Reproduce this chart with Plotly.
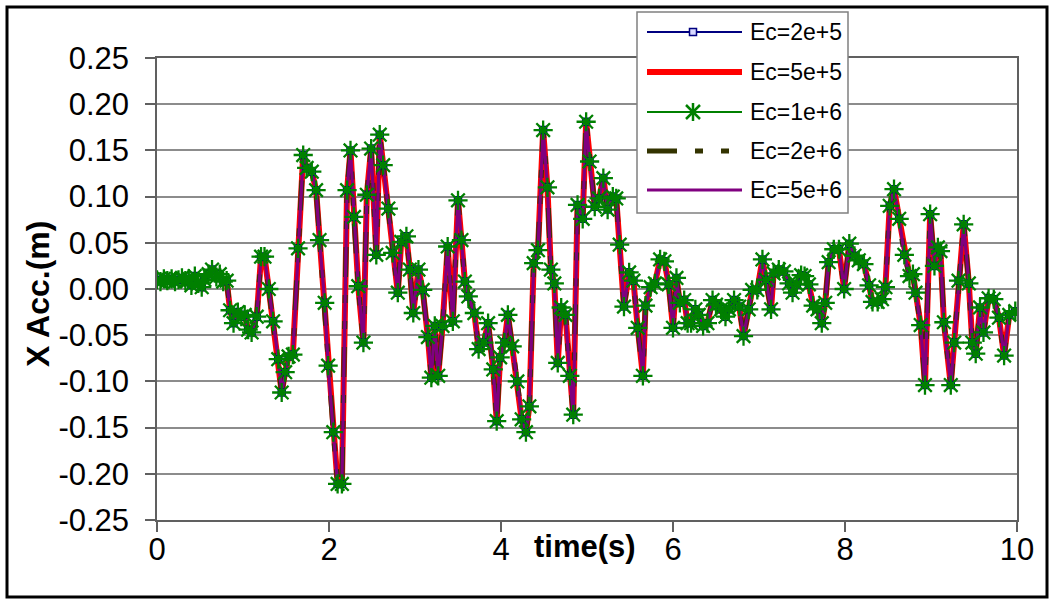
import plotly.graph_objects as go

# Sampled response: time (s) and X acceleration
time_s = [
    0.00, 0.04, 0.08, 0.12, 0.17, 0.21, 0.25, 0.29, 0.33, 0.37, 0.40, 0.44, 0.48, 0.52, 0.55,
    0.60, 0.64, 0.69, 0.73, 0.77, 0.81, 0.85, 0.89, 0.94, 0.98, 1.02, 1.06, 1.10, 1.16, 1.21,
    1.25, 1.30, 1.35, 1.41, 1.45, 1.49, 1.53, 1.58, 1.64, 1.70, 1.74, 1.80, 1.85, 1.89, 1.95,
    1.99, 2.05, 2.10, 2.15, 2.21, 2.25, 2.29, 2.34, 2.40, 2.44, 2.49, 2.55, 2.59, 2.63, 2.69,
    2.74, 2.80, 2.84, 2.90, 2.94, 2.98, 3.04, 3.09, 3.15, 3.19, 3.23, 3.27, 3.32, 3.38, 3.44,
    3.50, 3.54, 3.58, 3.62, 3.69, 3.74, 3.80, 3.85, 3.91, 3.95, 3.99, 4.04, 4.08, 4.13, 4.19,
    4.24, 4.29, 4.33, 4.38, 4.43, 4.49, 4.54, 4.58, 4.62, 4.66, 4.70, 4.75, 4.80, 4.84, 4.89,
    4.95, 4.99, 5.03, 5.09, 5.14, 5.19, 5.24, 5.30, 5.34, 5.38, 5.43, 5.49, 5.54, 5.59, 5.65,
    5.68, 5.74, 5.79, 5.85, 5.90, 5.95, 6.00, 6.04, 6.08, 6.13, 6.17, 6.21, 6.26, 6.30, 6.35,
    6.40, 6.46, 6.50, 6.56, 6.61, 6.65, 6.71, 6.77, 6.82, 6.88, 6.92, 6.98, 7.04, 7.08, 7.14,
    7.17, 7.23, 7.29, 7.35, 7.39, 7.44, 7.49, 7.53, 7.58, 7.63, 7.68, 7.73, 7.77, 7.81, 7.87,
    7.93, 7.99, 8.05, 8.11, 8.16, 8.22, 8.28, 8.32, 8.38, 8.43, 8.47, 8.52, 8.57, 8.63, 8.69,
    8.75, 8.79, 8.82, 8.88, 8.93, 8.99, 9.04, 9.08, 9.11, 9.15, 9.23, 9.27, 9.32, 9.38, 9.44,
    9.48, 9.52, 9.57, 9.61, 9.67, 9.73, 9.79, 9.85, 9.91, 9.98,
]
acc_x = [
    0.010, 0.008, 0.011, 0.009, 0.011, 0.008, 0.010, 0.012, 0.009, 0.011, 0.004, 0.014, 0.006, 0.002, 0.010,
    0.016, 0.021, 0.013, 0.016, 0.008, 0.009, -0.023, -0.037, -0.025, -0.030, -0.028, -0.044, -0.047, -0.030, 0.035,
    0.035, 0.000, -0.035, -0.076, -0.112, -0.090, -0.073, -0.071, 0.044, 0.145, 0.131, 0.127, 0.107, 0.053, -0.015,
    -0.083, -0.155, -0.211, -0.211, 0.107, 0.150, 0.078, 0.003, -0.058, 0.102, 0.152, 0.037, 0.167, 0.134, 0.087,
    0.039, -0.004, 0.051, 0.057, 0.021, -0.026, 0.021, -0.001, -0.052, -0.096, -0.040, -0.094, -0.040, 0.046, -0.035,
    0.096, 0.053, 0.008, -0.008, -0.026, -0.065, -0.058, -0.037, -0.087, -0.143, -0.074, -0.058, -0.028, -0.062, -0.100,
    -0.141, -0.155, -0.127, 0.028, 0.042, 0.172, 0.110, 0.021, 0.006, -0.080, -0.020, -0.028, -0.094, -0.136, 0.091,
    0.076, 0.181, 0.138, 0.089, 0.098, 0.120, 0.086, 0.100, 0.098, 0.048, -0.019, 0.018, 0.009, -0.042, -0.094,
    -0.018, 0.002, 0.006, 0.032, 0.030, 0.005, -0.042, 0.012, -0.015, -0.012, -0.037, -0.037, -0.022, -0.028, -0.040,
    -0.037, -0.012, -0.017, -0.022, -0.030, -0.022, -0.012, -0.019, -0.051, -0.022, -0.001, -0.001, 0.032, 0.010, -0.022,
    0.017, 0.021, 0.019, 0.006, -0.004, 0.005, 0.015, 0.014, 0.005, -0.018, -0.022, -0.037, -0.015, 0.029, 0.043,
    0.043, 0.000, 0.049, 0.036, 0.031, 0.027, 0.004, -0.014, -0.014, -0.011, 0.002, 0.090, 0.108, 0.076, 0.037,
    0.014, 0.016, -0.004, -0.039, -0.104, 0.081, 0.025, 0.045, 0.041, -0.036, -0.104, -0.058, 0.009, 0.070, 0.006,
    -0.058, -0.070, -0.020, -0.047, -0.010, -0.011, -0.031, -0.072, -0.028, -0.024,
]

series_names = ["Ec=2e+5", "Ec=5e+5", "Ec=1e+6", "Ec=2e+6", "Ec=5e+6"]

y_tick_vals = [0.25, 0.20, 0.15, 0.10, 0.05, 0.00, -0.05, -0.10, -0.15, -0.20, -0.25]
y_tick_text = ["0.25", "0.20", "0.15", "0.10", "0.05", "0.00",
               "-0.05", "-0.10", "-0.15", "-0.20", "-0.25"]
x_tick_vals = [0, 2, 4, 6, 8, 10]

FONT = "Liberation Sans, Arial, sans-serif"
W, H = 1054, 601
ML, MR, MT, MB = 157, 37, 58, 81
PW, PH = W - ML - MR, H - MT - MB

NAVY, RED, GREEN, OLIVE, PURPLE = "#000080", "#FF0000", "#008000", "#333300", "#800080"
OLIVE_DASH = "30px,18px,8px,18px,8px,18px"

styles = {
    "Ec=2e+5": dict(color=NAVY, width=1.5),
    "Ec=5e+5": dict(color=RED, width=6),
    "Ec=1e+6": dict(color=GREEN, width=1.2),
    "Ec=2e+6": dict(color=OLIVE, width=5, dash=OLIVE_DASH),
    "Ec=5e+6": dict(color=PURPLE, width=3.2),
}

fig = go.Figure()

# Lines, in stacking order (purple ends on top)
for name in ["Ec=2e+5", "Ec=5e+5", "Ec=1e+6", "Ec=2e+6", "Ec=5e+6"]:
    fig.add_trace(go.Scatter(x=time_s, y=acc_x, mode="lines", name=name,
                             line=styles[name], showlegend=False, hoverinfo="skip"))

# Markers drawn over all lines
fig.add_trace(go.Scatter(x=time_s, y=acc_x, mode="markers", name="Ec=2e+5",
                         marker=dict(symbol="square", size=7, color="#d8d8ff",
                                     line=dict(color=NAVY, width=1.5)),
                         showlegend=False, hoverinfo="skip"))
fig.add_trace(go.Scatter(x=time_s, y=acc_x, mode="markers", name="Ec=1e+6",
                         marker=dict(symbol="asterisk-open", size=16, color=GREEN,
                                     line=dict(color=GREEN, width=2.3)),
                         showlegend=False, hoverinfo="skip"))


def px_x(px):
    return (px - ML) / PW


def px_y(py):
    return (H - MB - py) / PH


shapes = []
annotations = []

# Outer frame of the chart
shapes.append(dict(type="rect", xref="paper", yref="paper",
                   x0=px_x(7), x1=px_x(1047), y0=px_y(597), y1=px_y(7),
                   line=dict(color="black", width=3), layer="below"))

# Legend box
shapes.append(dict(type="rect", xref="paper", yref="paper",
                   x0=px_x(637), x1=px_x(848), y0=px_y(213), y1=px_y(12),
                   fillcolor="white", line=dict(color="#808080", width=1.5), layer="above"))

legend_rows = [32, 72, 112, 151, 190]
key_x0, key_x1, key_mid, text_x = 647, 742, 693, 748
for name, row in zip(series_names, legend_rows):
    st = styles[name]
    shapes.append(dict(type="line", xref="paper", yref="paper",
                       x0=px_x(key_x0), x1=px_x(key_x1), y0=px_y(row), y1=px_y(row),
                       line=dict(color=st["color"],
                                 width=max(st["width"], 2) if name != "Ec=2e+6" else 5,
                                 dash=st.get("dash", "solid")),
                       layer="above"))
    annotations.append(dict(text=name, xref="paper", yref="paper",
                            x=px_x(text_x), y=px_y(row), xanchor="left", yanchor="middle",
                            showarrow=False, font=dict(family=FONT, size=23, color="black")))

# Square key marker
shapes.append(dict(type="rect", xref="paper", yref="paper",
                   xsizemode="pixel", ysizemode="pixel",
                   xanchor=px_x(key_mid), yanchor=px_y(legend_rows[0]),
                   x0=-3.5, x1=3.5, y0=-3.5, y1=3.5,
                   fillcolor="#d8d8ff", line=dict(color=NAVY, width=1.5), layer="above"))
# Star key marker (vertical arm + two diagonals)
for (dx, dy) in [(0, 9), (7, 7), (7, -7)]:
    shapes.append(dict(type="line", xref="paper", yref="paper",
                       xsizemode="pixel", ysizemode="pixel",
                       xanchor=px_x(key_mid), yanchor=px_y(legend_rows[2]),
                       x0=-dx, x1=dx, y0=-dy, y1=dy,
                       line=dict(color=GREEN, width=2.5), layer="above"))

# Axis titles
annotations.append(dict(text="<b>X Acc.(m)</b>", xref="paper", yref="paper",
                        x=px_x(38), y=px_y(294), textangle=-90,
                        xanchor="center", yanchor="middle", showarrow=False,
                        font=dict(family=FONT, size=32, color="black")))
annotations.append(dict(text="<b>time(s)</b>", xref="paper", yref="paper",
                        x=px_x(585), y=px_y(546), xanchor="center", yanchor="middle",
                        showarrow=False, font=dict(family=FONT, size=31, color="black")))

fig.update_layout(
    width=W, height=H,
    margin=dict(l=ML, r=MR, t=MT, b=MB, pad=0),
    paper_bgcolor="white", plot_bgcolor="white",
    font=dict(family=FONT, size=31, color="black"),
    showlegend=False,
    shapes=shapes, annotations=annotations,
    xaxis=dict(range=[0, 10], tickvals=x_tick_vals, ticktext=[str(v) for v in x_tick_vals],
               showgrid=False, zeroline=False,
               showline=True, linecolor="#606060", linewidth=1.5, mirror=True,
               ticks="outside", ticklen=10, tickcolor="#606060", tickwidth=1.5,
               ticklabelstandoff=-9,
               tickfont=dict(family=FONT, size=31, color="black")),
    yaxis=dict(range=[-0.25, 0.25], tickvals=y_tick_vals, ticktext=y_tick_text,
               showgrid=True, gridcolor="#8c8c8c", gridwidth=1.5, zeroline=False,
               showline=True, linecolor="#606060", linewidth=1.5, mirror=True,
               ticks="outside", ticklen=10, tickcolor="#606060", tickwidth=1.5,
               ticklabelstandoff=10,
               tickfont=dict(family=FONT, size=31, color="black")),
)

fig.write_html("out.html")
